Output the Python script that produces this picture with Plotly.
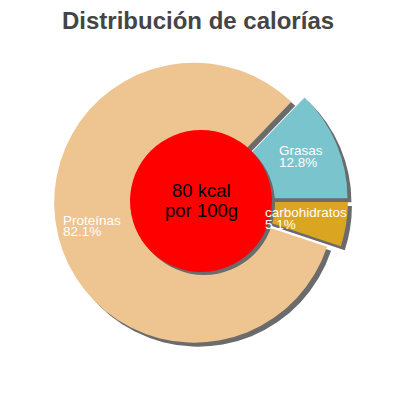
import plotly.graph_objects as go

labels = ["Grasas", "Proteínas", "carbohidratos"]
values = [12.8, 82.1, 5.1]
colors = ["#7AC5CD", "#EEC591", "#DAA520"]
center_lines = ["80 kcal", "por 100g"]
title_text = "Distribución de calorías"

W = H = 400
OFF = 8              # page body margin compensation
cx, cy = 201 - OFF, 201 - OFF   # pixel centre (from top)
box = 294            # pie box size in px
pull = 0.05
# first slice (counterclockwise) should begin at 3 o'clock
rot = 90 - 360 * values[0] / sum(values)

def px(x, y):
    return (x - OFF) / W, 1 - (y - OFF) / H

def dom(cxp, cyp):
    return dict(x=[(cxp - box / 2) / W, (cxp + box / 2) / W],
                y=[(H - cyp - box / 2) / H, (H - cyp + box / 2) / H])

fig = go.Figure()
# shadow pie
fig.add_trace(go.Pie(values=values, labels=labels, sort=False, direction="counterclockwise",
                     rotation=rot, pull=[pull] * 3, marker=dict(colors=["#6b6b6b"] * 3, line=dict(width=0)),
                     textinfo="none", hoverinfo="skip", domain=dom(cx + 4, cy + 4), showlegend=False))
fig.add_trace(go.Pie(values=values, labels=labels, sort=False, direction="counterclockwise",
                     rotation=rot, pull=[pull] * 3, marker=dict(colors=colors, line=dict(width=0)),
                     textinfo="none", domain=dom(cx, cy), showlegend=False))

def circ(x, y, r, color):
    return dict(type="circle", xref="paper", yref="paper", layer="above",
                x0=(x - r) / W, x1=(x + r) / W, y0=(H - y - r) / H, y1=(H - y + r) / H,
                fillcolor=color, line=dict(width=0))

shapes = [circ(cx + 3, cy + 3, 71, "#6b6b6b"), circ(cx, cy, 71, "#FF0000")]

label_pos = {"Grasas": (278, 151), "Proteínas": (62, 220), "carbohidratos": (264, 213)}
annotations = []

def add_text(text, xp, yp, size, color, xanchor="left", bold=False):
    x, y = px(xp, yp)
    annotations.append(dict(x=x, y=y, xref="paper", yref="paper", xanchor=xanchor, yanchor="middle",
                            text=f"<b>{text}</b>" if bold else text, showarrow=False, borderpad=0,
                            font=dict(family="Liberation Sans", size=size, color=color)))

for lab, val in zip(labels, values):
    xp, yp = label_pos[lab]
    add_text(lab, xp, yp, 13.5, "white")
    add_text(f"{val}%", xp, yp + 11.5, 13.5, "white")

add_text(center_lines[0], 201, 190, 18.5, "black", xanchor="center")
add_text(center_lines[1], 201, 210, 18.5, "black", xanchor="center")
add_text(title_text, 198, 20, 24, "#444444", xanchor="center", bold=True)

fig.update_layout(width=W, height=H, margin=dict(l=0, r=0, t=0, b=0), paper_bgcolor="white",
                  plot_bgcolor="white", shapes=shapes, annotations=annotations)
fig.write_html("out.html")
